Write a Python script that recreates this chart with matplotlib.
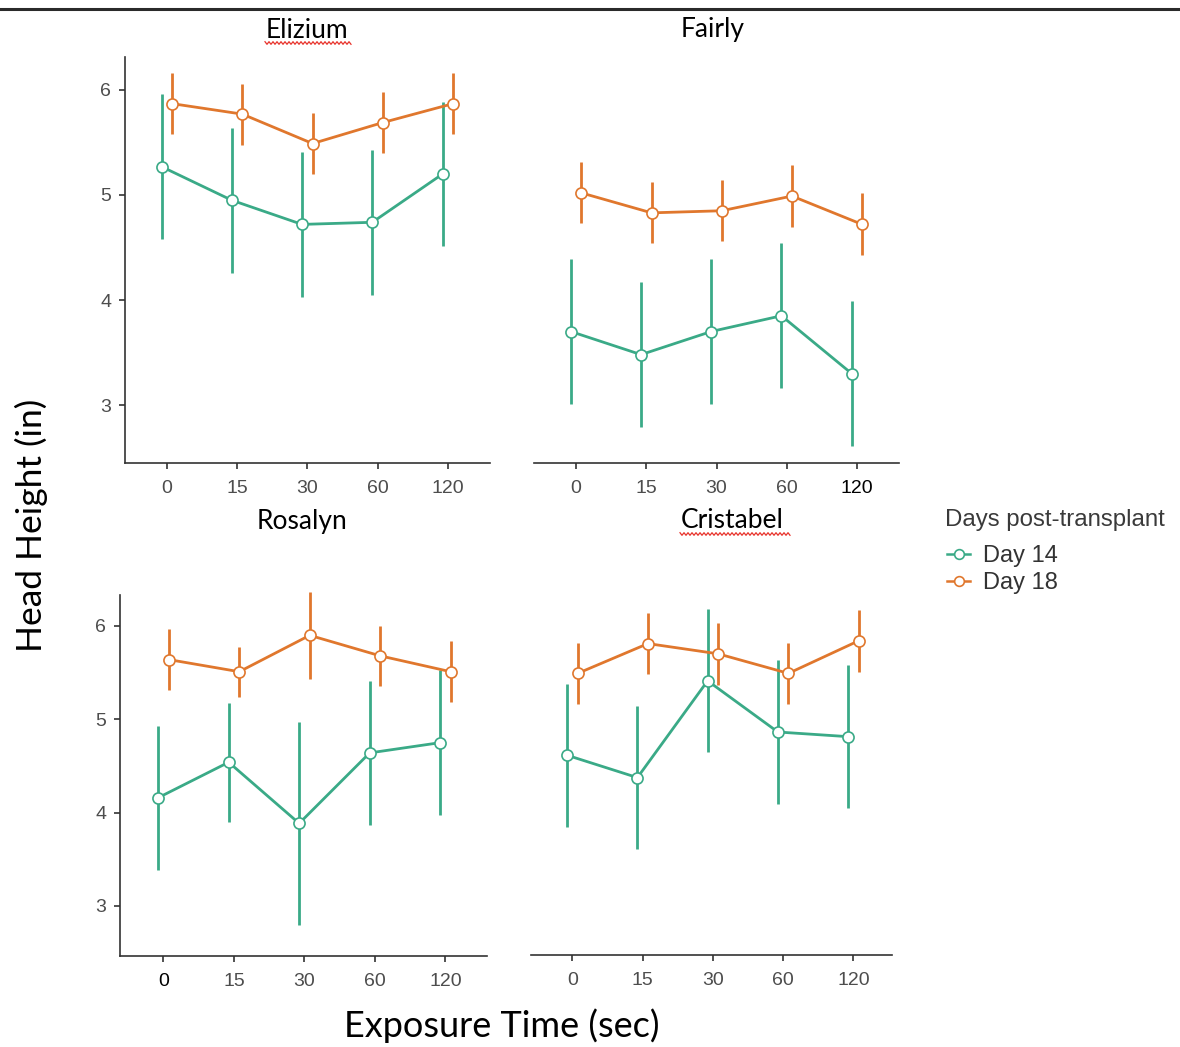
import matplotlib
matplotlib.use("Agg")
import matplotlib.pyplot as plt
import numpy as np
from matplotlib.lines import Line2D

# ---------------- data ----------------
categories = ["0", "15", "30", "60", "120"]
panels = ["Elizium", "Fairly", "Rosalyn", "Cristabel"]
series_names = ["Day 14", "Day 18"]
legend_title = "Days post-transplant"

elizium_d14 = [5.27, 4.95, 4.72, 4.74, 5.20]
elizium_d14_err = [0.69, 0.69, 0.69, 0.69, 0.69]
elizium_d18 = [5.87, 5.77, 5.49, 5.69, 5.87]
elizium_d18_err = [0.29, 0.29, 0.29, 0.29, 0.29]

fairly_d14 = [3.70, 3.48, 3.70, 3.85, 3.30]
fairly_d14_err = [0.69, 0.69, 0.69, 0.69, 0.69]
fairly_d18 = [5.02, 4.83, 4.85, 4.99, 4.72]
fairly_d18_err = [0.29, 0.29, 0.29, 0.295, 0.295]

rosalyn_d14 = [4.16, 4.54, 3.885, 4.64, 4.75]
rosalyn_d14_err = [0.77, 0.64, 1.09, 0.77, 0.78]
rosalyn_d18 = [5.64, 5.51, 5.90, 5.68, 5.51]
rosalyn_d18_err = [0.33, 0.27, 0.465, 0.325, 0.325]

cristabel_d14 = [4.61, 4.37, 5.41, 4.86, 4.81]
cristabel_d14_err = [0.77, 0.77, 0.77, 0.775, 0.77]
cristabel_d18 = [5.49, 5.81, 5.70, 5.49, 5.84]
cristabel_d18_err = [0.33, 0.325, 0.33, 0.33, 0.33]

data = {
    "Elizium": [(elizium_d14, elizium_d14_err), (elizium_d18, elizium_d18_err)],
    "Fairly": [(fairly_d14, fairly_d14_err), (fairly_d18, fairly_d18_err)],
    "Rosalyn": [(rosalyn_d14, rosalyn_d14_err), (rosalyn_d18, rosalyn_d18_err)],
    "Cristabel": [(cristabel_d14, cristabel_d14_err), (cristabel_d18, cristabel_d18_err)],
}

# ---------------- style ----------------
colors = ["#3aaa87", "#e0772d"]
dodge = [-0.075, 0.075]
axis_col = "#333333"
tick_col = "#4d4d4d"
title_font = "Lato"
tick_font = "Liberation Sans"

W, H = 1180, 1047
fig = plt.figure(figsize=(W / 100, H / 100), dpi=100)
fig.patch.set_facecolor("white")


def add_ax(l, t, r, b):
    return fig.add_axes([l / W, 1 - b / H, (r - l) / W, (b - t) / H])


def fx(px):
    return px / W


def fy(py):
    return 1 - py / H


layout = {
    # left, top, right, bottom (px), xlim, ylim, show y axis
    "Elizium": ((125, 57, 490, 463), (-0.595, 4.6), (2.448, 6.314), True),
    "Fairly": ((534, 57, 899, 463), (-0.6, 4.6), (2.448, 6.314), False),
    "Rosalyn": ((120, 595, 487, 956), (-0.617, 4.59), (2.464, 6.332), True),
    "Cristabel": ((531, 595, 892, 955), (-0.59, 4.55), (2.464, 6.332), False),
}
title_pos = {
    "Elizium": (307, 30),
    "Fairly": (713, 30),
    "Rosalyn": (302, 522),
    "Cristabel": (732, 521),
}

x = np.arange(len(categories))
for name in panels:
    box, xl, yl, showy = layout[name]
    ax = add_ax(*box)
    for si, (vals, errs) in enumerate(data[name]):
        c = colors[si]
        xs = x + dodge[si]
        v = np.array(vals)
        e = np.array(errs)
        ax.vlines(xs, v - e, v + e, color=c, lw=2.0, zorder=2 + si * 3, clip_on=False)
        ax.plot(xs, v, color=c, lw=2.0, zorder=3 + si * 3, clip_on=False)
        ax.plot(xs, v, linestyle="none", marker="o", ms=8, mfc="white", mec=c,
                mew=1.2, zorder=4 + si * 3, clip_on=False)
    ax.set_xlim(*xl)
    ax.set_ylim(*yl)
    ax.set_xticks(x)
    ax.set_xticklabels(categories)
    for s in ["top", "right"]:
        ax.spines[s].set_visible(False)
    ax.spines["bottom"].set_color(axis_col)
    ax.spines["bottom"].set_linewidth(1.2)
    ax.tick_params(axis="x", colors=axis_col, labelcolor=tick_col, length=4,
                   width=1.2, labelsize=14, pad=8)
    if showy:
        ax.spines["left"].set_color(axis_col)
        ax.spines["left"].set_linewidth(1.2)
        ax.set_yticks([3, 4, 5, 6])
        ax.tick_params(axis="y", colors=axis_col, labelcolor=tick_col, length=4,
                       width=1.2, labelsize=14, pad=6)
    else:
        ax.spines["left"].set_visible(False)
        ax.set_yticks([])
    for lab in ax.get_xticklabels() + ax.get_yticklabels():
        lab.set_fontfamily(tick_font)
    ax.patch.set_alpha(0)
    if name == "Rosalyn":
        ax.get_xticklabels()[0].set_color("black")
    if name == "Fairly":
        ax.get_xticklabels()[-1].set_color("black")
    tx, ty = title_pos[name]
    fig.text(fx(tx), fy(ty), name, ha="center", va="center", fontsize=19,
             family=title_font, color="black")

# spell-check style squiggles under two titles
for (x0, x1, yy) in [(265, 352, 43), (680, 790, 534)]:
    xs = np.arange(x0, x1 + 1, 2.0)
    ys = yy + np.where(np.arange(len(xs)) % 2 == 0, -1.3, 1.3)
    fig.add_artist(Line2D(fx(xs), fy(ys), color="#e8322b", lw=0.9,
                          transform=fig.transFigure))

# top border line
fig.add_artist(Line2D([0, 1], [fy(9), fy(9)], color="#2a2a2a", lw=2.2,
                      transform=fig.transFigure))

# axis labels
fig.text(fx(31), fy(525), "Head Height (in)", rotation=90, ha="center",
         va="center", fontsize=25.5, family=title_font, color="black")
fig.text(fx(502), fy(1026), "Exposure Time (sec)", ha="center",
         va="center", fontsize=26, family=title_font, color="black")

# legend (drawn manually)
fig.text(fx(945), fy(520), legend_title, ha="left", va="center",
         fontsize=17.3, family=tick_font, color="#3a3a3a")
for i, lab in enumerate(series_names):
    yy = 554 + 27 * i
    fig.add_artist(Line2D([fx(947), fx(970)], [fy(yy), fy(yy)], color=colors[i],
                          lw=1.8, transform=fig.transFigure))
    fig.add_artist(Line2D([fx(958.5)], [fy(yy)], color=colors[i], marker="o",
                          ms=7, mfc="white", mec=colors[i], mew=1.2,
                          linestyle="none", transform=fig.transFigure))
    fig.text(fx(983), fy(yy + 2), lab, ha="left", va="center", fontsize=17,
             family=tick_font, color="#333333")

fig.savefig("out.png", dpi=100)
